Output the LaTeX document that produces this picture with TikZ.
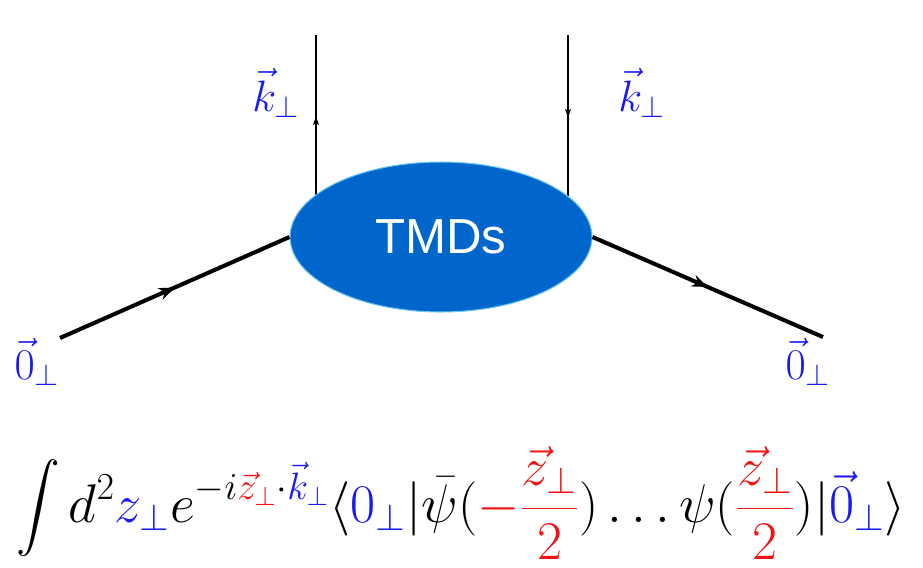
\documentclass[tikz,border=0pt]{standalone}
\usepackage{fix-cm}
\usepackage{amsmath}
\usepackage{fontspec}
\newfontfamily\tmdfont{Liberation Sans}
\usetikzlibrary{arrows.meta,decorations.markings,shapes.geometric}

\definecolor{tmdblue}{RGB}{0,102,204}
\definecolor{tmdrim}{RGB}{110,200,240}
\definecolor{momblue}{RGB}{25,25,245}
\definecolor{posred}{RGB}{240,20,20}

\begin{document}
\begin{tikzpicture}[x=0.02cm,y=-0.02cm,
    font=\fontsize{25}{30}\selectfont,
    blob/.style={ellipse,fill=tmdblue,draw=tmdrim,line width=0.6pt,
      minimum width=6.04cm,minimum height=3cm,inner sep=0pt,
      text=white,font=\tmdfont\fontsize{28}{32}\selectfont},
    gluon/.style={line width=0.8pt,postaction={decorate},
      decoration={markings,mark=at position 0.5 with
        {\arrow{Stealth[length=5pt,width=3.6pt]}}}},
    quark/.style={line width=2.3pt,postaction={decorate},
      decoration={markings,mark=at position 0.5 with
        {\arrow{Stealth[length=9pt,width=7pt]}}}},
    mom/.style={text=momblue}]
  \useasboundingbox (0,0) rectangle (923,568);

  % transverse momentum legs
  \coordinate (ltop) at (316,35);
  \coordinate (lbot) at (316,198);
  \coordinate (rtop) at (568,35);
  \coordinate (rbot) at (568,200);
  \draw[gluon] (lbot) -- (ltop);
  \draw[gluon] (rtop) -- (rbot);

  \node[blob] (tmd) at (441,237) {TMDs};

  % incoming and outgoing lines
  \coordinate (lin) at (60,338);
  \coordinate (rout) at (823,337);
  \draw[quark] (lin) -- (tmd.west);
  \draw[quark] (tmd.east) -- (rout);

  \node[mom] (kl) at (276,93) {$\vec k_\perp$};
  \node[mom] (kr) at (642,93) {$\vec k_\perp$};
  \node[mom] (ol) at (37,362) {$\vec 0_\perp$};
  \node[mom] (or) at (808,362) {$\vec 0_\perp$};

  \node[font=\fontsize{31}{36}\selectfont] (formula) at (461,503)
    {$\displaystyle\int d^2\textcolor{momblue}{z_\perp}
     e^{-i\textcolor{posred}{\vec z_\perp}\cdot\textcolor{momblue}{\vec k_\perp}}
     \langle\textcolor{momblue}{0_\perp}|\bar\psi(\textcolor{posred}{-\frac{\vec z_\perp}{2}})
     \ldots\psi(\textcolor{posred}{\frac{\vec z_\perp}{2}})|\textcolor{momblue}{\vec 0_\perp}\rangle$};
\end{tikzpicture}
\end{document}
